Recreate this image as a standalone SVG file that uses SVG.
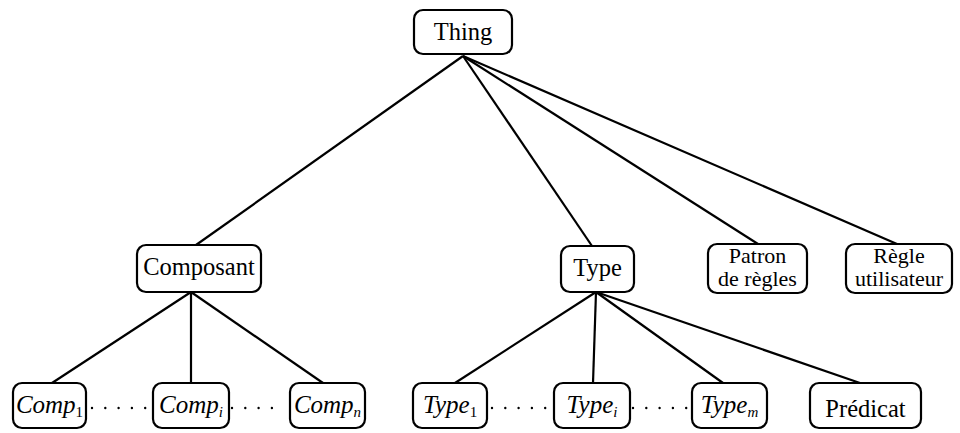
<svg xmlns="http://www.w3.org/2000/svg" width="960" height="433" viewBox="0 0 960 433">
<style>
.box{fill:#fff;stroke:#000;stroke-width:2.2}
.t{font-family:"Liberation Serif","Times New Roman",serif;font-size:24.5px;fill:#000;text-anchor:middle}
.t2{font-size:22px}
.m{font-family:"Liberation Serif","Times New Roman",serif;font-size:25px;font-style:italic;fill:#000;text-anchor:middle}
.s{font-size:15px}
.sn{font-size:15px;font-style:normal}
.e{stroke:#000;stroke-width:2.2;fill:none}
.d{stroke:#000;stroke-width:2.4;fill:none;stroke-linecap:round;stroke-dasharray:0 13.3}
</style>
<rect width="960" height="433" fill="#fff"/>
<g id="connectors">
<line class="e" x1="463" y1="56" x2="196" y2="245"/>
<line class="e" x1="463" y1="56" x2="592" y2="246"/>
<line class="e" x1="463" y1="56" x2="758" y2="244"/>
<line class="e" x1="463" y1="56" x2="897" y2="244"/>
<line class="e" x1="191" y1="292" x2="52" y2="383"/>
<line class="e" x1="191" y1="292" x2="191" y2="383"/>
<line class="e" x1="191" y1="292" x2="323" y2="383"/>
<line class="e" x1="596" y1="292" x2="455" y2="383"/>
<line class="e" x1="596" y1="292" x2="593" y2="383"/>
<line class="e" x1="596" y1="292" x2="723" y2="383"/>
<line class="e" x1="596" y1="292" x2="860" y2="383"/>
<line class="d" x1="92" y1="408" x2="148" y2="408"/>
<line class="d" x1="232" y1="408" x2="285" y2="408"/>
<line class="d" x1="492" y1="408" x2="549" y2="408"/>
<line class="d" x1="633" y1="408" x2="687" y2="408"/>
</g>
<g id="thing"><rect class="box" x="414" y="10" width="98" height="44" rx="9"/><text class="t" x="463" y="40">Thing</text></g>
<g id="composant"><rect class="box" x="137" y="245" width="124" height="47" rx="9"/><text class="t" x="199" y="275">Composant</text></g>
<g id="type"><rect class="box" x="561" y="246" width="73" height="46" rx="9"/><text class="t" x="597.5" y="276">Type</text></g>
<g id="patron"><rect class="box" x="708" y="244" width="99" height="49" rx="9"/><text class="t t2" x="757.5" y="262.5">Patron</text><text class="t t2" x="757.5" y="285.5">de règles</text></g>
<g id="regle"><rect class="box" x="846" y="244" width="106" height="49" rx="9"/><text class="t t2" x="899" y="262.5">Règle</text><text class="t t2" x="899" y="285.5">utilisateur</text></g>
<g id="comp1"><rect class="box" x="13" y="383" width="73" height="45" rx="9"/><text class="m" x="49.5" y="413">Comp<tspan class="sn" dy="4">1</tspan></text></g>
<g id="compi"><rect class="box" x="153" y="383" width="76" height="45" rx="9"/><text class="m" x="191" y="413">Comp<tspan class="s" dy="4">i</tspan></text></g>
<g id="compn"><rect class="box" x="290" y="383" width="75" height="45" rx="9"/><text class="m" x="327.5" y="413">Comp<tspan class="s" dy="4">n</tspan></text></g>
<g id="type1"><rect class="box" x="413" y="383" width="74" height="45" rx="9"/><text class="m" x="450" y="413">Type<tspan class="sn" dy="4">1</tspan></text></g>
<g id="typei"><rect class="box" x="554" y="383" width="76" height="45" rx="9"/><text class="m" x="592" y="413">Type<tspan class="s" dy="4">i</tspan></text></g>
<g id="typem"><rect class="box" x="692" y="383" width="75" height="45" rx="9"/><text class="m" x="729.5" y="413">Type<tspan class="s" dy="4">m</tspan></text></g>
<g id="predicat"><rect class="box" x="810" y="383" width="111" height="45" rx="9"/><text class="t" x="865.5" y="417">Prédicat</text></g>
</svg>
